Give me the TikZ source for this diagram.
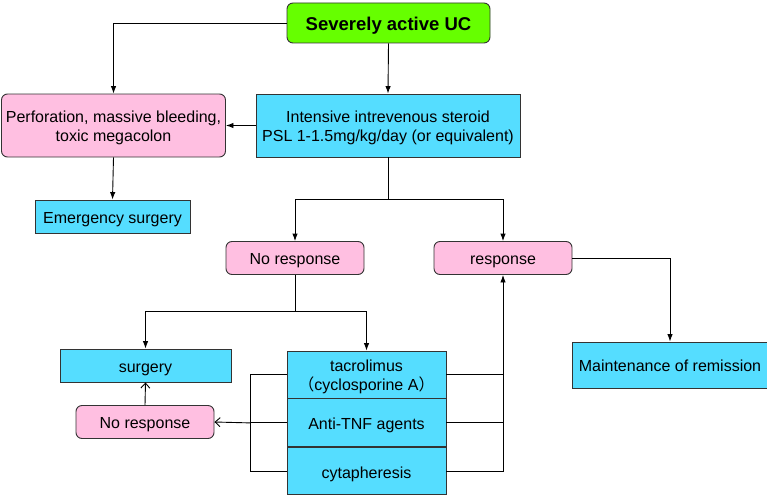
\documentclass[tikz,border=0pt]{standalone}
\usepackage{fontspec}
\setmainfont{Liberation Sans}
\newfontfamily\cjk{Noto Sans CJK SC}
\usetikzlibrary{arrows.meta}
\definecolor{ucgreen}{HTML}{66FF00}
\definecolor{ucpink}{HTML}{FFBFE1}
\definecolor{uccyan}{HTML}{55DDFF}
\definecolor{ucedge}{HTML}{333333}
\newcommand{\tx}[1]{\raisebox{-3pt}[\height][\depth]{\begin{tabular}{@{}c@{}}#1\end{tabular}}}
\tikzset{
  box/.style={draw=ucedge, line width=0.9pt, inner sep=0pt, font=\fontsize{16}{18.5}\selectfont},
  pinkbox/.style={box, fill=ucpink, rounded corners=6pt},
  cyanbox/.style={box, fill=uccyan},
  conn/.style={line width=0.9pt, draw=black},
  arr/.style={conn, -{Latex[length=7.5pt,width=5.5pt]}},
  oarr/.style={conn, -{Straight Barb[length=5pt,width=9pt]}},
}
\begin{document}
\begin{tikzpicture}[x=1pt,y=-1pt]
\useasboundingbox (0,0) rectangle (767,495);
% nodes
\node[box, fill=ucgreen, rounded corners=6pt, minimum width=203pt, minimum height=40pt, font=\bfseries\fontsize{18.5}{21}\selectfont] (uc) at (388.5,23) {\tx{Severely active UC}};
\node[pinkbox, minimum width=224pt, minimum height=63pt] (perf) at (113.5,125.5) {\tx{Perforation, massive bleeding,\\toxic megacolon}};
\node[cyanbox, minimum width=264pt, minimum height=63pt] (ster) at (388,125.5) {\tx{Intensive intrevenous steroid\\PSL 1-1.5mg/kg/day (or equivalent)}};
\node[cyanbox, minimum width=155pt, minimum height=33pt] (emer) at (112.5,216.5) {\tx{Emergency surgery}};
\node[pinkbox, minimum width=138pt, minimum height=33pt] (nr1) at (295,258) {\tx{No response}};
\node[pinkbox, minimum width=138pt, minimum height=33pt] (resp) at (503,258) {\tx{response}};
\node[cyanbox, minimum width=171pt, minimum height=33pt] (surg) at (145.5,365.5) {\tx{surgery}};
\node[pinkbox, minimum width=138pt, minimum height=33pt] (nr2) at (145,422) {\tx{No response}};
\node[cyanbox, minimum width=159pt, minimum height=47pt, font=\fontsize{16}{16}\selectfont] (tac) at (366.5,374.5) {\tx{tacrolimus\\{\cjk （}cyclosporine A{\cjk ）}}};
\node[cyanbox, minimum width=159pt, minimum height=48pt, anchor=north] (tnf) at (tac.south) {\tx{Anti-TNF agents}};
\node[cyanbox, minimum width=159pt, minimum height=47pt, anchor=north] (cyta) at (tnf.south) {\tx{cytapheresis}};
\node[cyanbox, minimum width=196pt, minimum height=46pt] (maint) at (670,365) {\tx{Maintenance of remission}};
% coordinates
\coordinate (j1) at (388,199);
\coordinate (j2) at (295,311);
\coordinate (lb) at (250,0);
\coordinate (rb) at (503,0);
% connectors
\draw[arr] (uc.west) -| (perf.north);
\draw[arr] (uc.south) -- (ster.north);
\draw[arr] (ster.west) -- (perf.east);
\draw[arr] (perf.south) -- (emer.north);
\draw[conn] (ster.south) -- (j1);
\draw[arr] (j1) -| (nr1.north);
\draw[arr] (j1) -| (resp.north);
\draw[conn] (nr1.south) -- (j2);
\draw[arr] (j2) -| (surg.north);
\draw[arr] (j2) -| (tac.north);
\draw[oarr] (nr2.north) -- (surg.south);
\draw[conn] (tac.west) -- (tac.west -| lb) |- (cyta.west);
\draw[conn] (tnf.west) -- (tnf.west -| lb);
\draw[oarr] (tnf.west -| lb) -- (nr2.east);
\draw[conn] (tac.east) -- (tac.east -| rb);
\draw[conn] (tnf.east) -- (tnf.east -| rb);
\draw[arr] (cyta.east) -| (resp.south);
\draw[arr] (resp.east) -| (maint.north);
\end{tikzpicture}
\end{document}
